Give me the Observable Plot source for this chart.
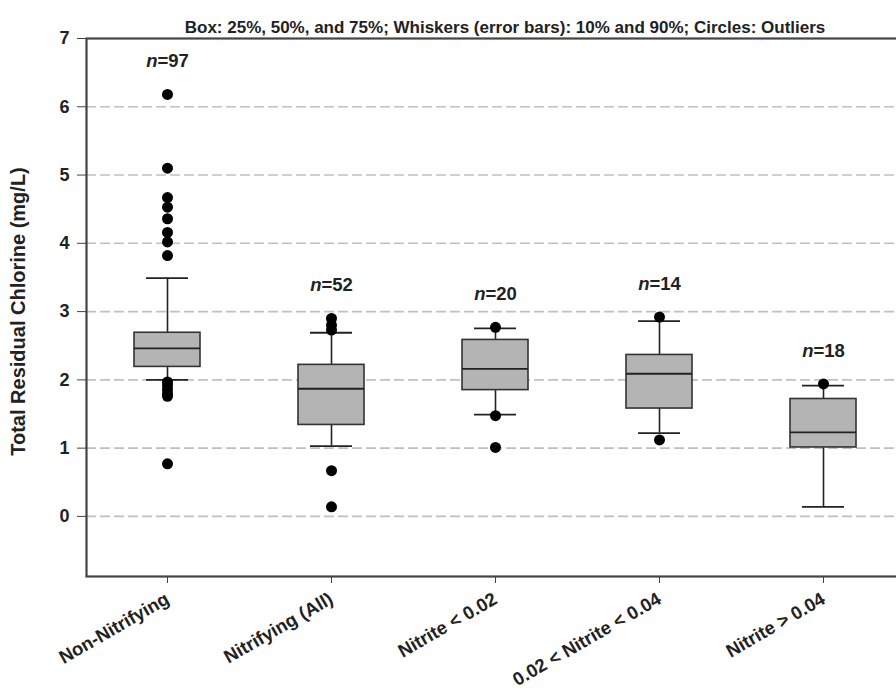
<!DOCTYPE html>
<html>
<head>
<meta charset="utf-8">
<script src="https://cdn.jsdelivr.net/npm/d3@7"></script>
<script src="https://cdn.jsdelivr.net/npm/@observablehq/plot@0.6"></script>
<style>
  html, body { margin: 0; padding: 0; background: white; overflow: hidden; }
</style>
</head>
<body>
<div id="chart"></div>
<script>
const categories = ["Non-Nitrifying", "Nitrifying (All)", "Nitrite < 0.02", "0.02 < Nitrite < 0.04", "Nitrite > 0.04"];
const counts = [97, 52, 20, 14, 18];
const p10 = [2.00, 1.03, 1.49, 1.22, 0.14];
const q1 = [2.19, 1.34, 1.85, 1.58, 1.01];
const med = [2.46, 1.87, 2.16, 2.09, 1.23];
const q3 = [2.69, 2.22, 2.585, 2.365, 1.72];
const p90 = [3.49, 2.69, 2.755, 2.86, 1.915];
const outliers = [
  [6.18, 5.10, 4.67, 4.53, 4.36, 4.16, 4.02, 3.82, 1.97, 1.92, 1.86, 1.80, 1.76, 0.77],
  [2.90, 2.80, 2.73, 0.67, 0.14],
  [2.77, 1.475, 1.01],
  [2.92, 1.12],
  [1.94]
];
const yTicks = [0, 1, 2, 3, 4, 5, 6, 7];
const gridTicks = [0, 1, 2, 3, 4, 5, 6];
const yDomain = [-0.88, 7];
const title = "Box: 25%, 50%, and 75%; Whiskers (error bars): 10% and 90%; Circles: Outliers";
const yLabel = "Total Residual Chlorine (mg/L)";

const boxes = categories.map((c, i) => ({
  cat: c, n: counts[i], p10: p10[i], q1: q1[i], med: med[i], q3: q3[i], p90: p90[i],
  top: Math.max(p90[i], ...outliers[i])
}));
const dots = outliers.flatMap((vals, i) => vals.map(v => ({cat: categories[i], v})));

const font = "'Liberation Sans', Arial, sans-serif";

const plot = Plot.plot({
  width: 896,
  height: 692,
  marginTop: 38,
  marginBottom: 116,
  marginLeft: 86,
  marginRight: -8,
  style: {fontFamily: font, overflow: "hidden", background: "white"},
  x: {type: "band", domain: categories, padding: 0, range: [85, 905]},
  y: {domain: yDomain},
  marks: [
    Plot.ruleY(gridTicks, {stroke: "#c0c0c0", strokeWidth: 1.6, strokeDasharray: "10,4"}),
    Plot.ruleX(boxes, {x: "cat", y1: "p10", y2: "p90", stroke: "#222", strokeWidth: 1.6}),
    Plot.tickY(boxes, {x: "cat", y: "p10", stroke: "#222", strokeWidth: 1.8, insetLeft: 61, insetRight: 61}),
    Plot.tickY(boxes, {x: "cat", y: "p90", stroke: "#222", strokeWidth: 1.8, insetLeft: 61, insetRight: 61}),
    Plot.barY(boxes, {x: "cat", y1: "q1", y2: "q3", fill: "#b4b4b4", stroke: "#333", strokeWidth: 1.6, insetLeft: 49, insetRight: 49}),
    Plot.tickY(boxes, {x: "cat", y: "med", stroke: "#222", strokeWidth: 1.8, insetLeft: 49, insetRight: 49}),
    Plot.dot(dots, {x: "cat", y: "v", r: 5.5, fill: "black", stroke: "none"}),
    Plot.text(boxes, {x: "cat", y: "top", text: d => "n=" + d.n, dy: -33, fontSize: 18.5, fontWeight: "bold", fill: "#222", className: "nlab"}),
    Plot.frame({stroke: "#444", strokeWidth: 2.2}),
    Plot.axisY({ticks: yTicks, tickSize: 9, tickPadding: 8, fontSize: 18, fontWeight: "bold", stroke: "#444", fill: "#222", label: null}),
    Plot.axisX({tickSize: 7, tickPadding: 14, tickRotate: -30, fontSize: 18.5, fontWeight: "bold", stroke: "#444", fill: "#222", label: null}),
    Plot.text([title], {frameAnchor: "top", dx: 9.5, dy: -18, fontSize: 17, fontWeight: "bold", fill: "#222"}),
    Plot.text([yLabel], {frameAnchor: "left", textAnchor: "middle", dx: -68, dy: 4, rotate: -90, fontSize: 20, fontWeight: "bold", fill: "#222"})
  ]
});

d3.select(plot).selectAll(".nlab text").each(function() {
  const t = this.textContent;
  const sel = d3.select(this);
  sel.text(null);
  sel.append("tspan").attr("font-style", "italic").text(t.slice(0, 1));
  sel.append("tspan").text(t.slice(1));
});

document.getElementById("chart").appendChild(plot);
</script>
</body>
</html>
